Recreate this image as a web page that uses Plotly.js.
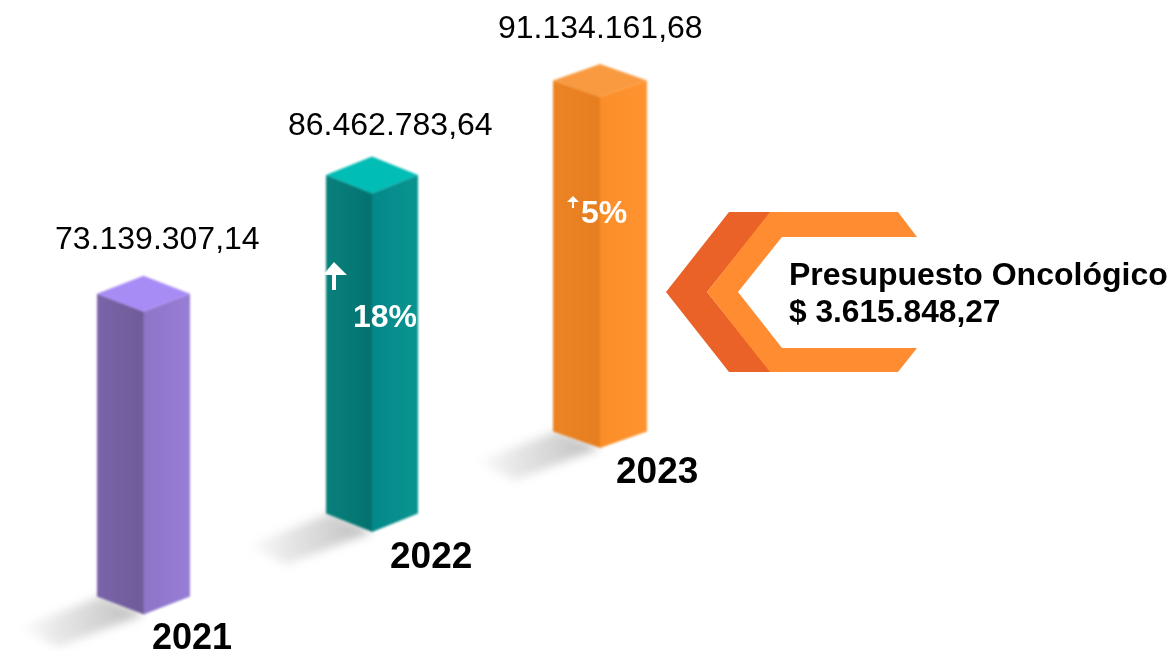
<!DOCTYPE html>
<html><head><meta charset="utf-8">
<script src="https://cdn.plot.ly/plotly-3.0.1.min.js"></script>
<style>
html,body{margin:0;padding:0;background:#fff}
#chart{width:1173px;height:651px}
#chart .scatterlayer{filter:blur(0.8px)}
#chart .scatterlayer .trace:nth-child(4n+1){filter:blur(5px)}
</style></head><body><div id="chart"></div>
<script>
// ---- data ----
const years = ['2021', '2022', '2023'];
const budgets = [73139307.14, 86462783.64, 91134161.68];
const growthLabels = ['', '18%', '5%'];
const calloutTitle = 'Presupuesto Oncológico';
const calloutValue = 3615848.27;

// ---- layout of the isometric columns (pixel-mapped axes) ----
const centerX = [143.5, 372, 600];
const baseY = [596.5, 513.5, 431.5];
const halfW = [46.5, 46, 47];
const depth = [18, 18.5, 16.5];
const heightOf = v => 106.8 + 2.68 * v / 1e6;   // truncated scale of the original

const topColor = ['#A88CF6', '#00BDB5', '#F99A40'];
const leftGrad = [['#7A64AA','#6F5B98'], ['#08807C','#04726F'], ['#EC8424','#E67D1F']];
const rightGrad = [['#8D75C8','#987DD6'], ['#04888A','#0A9490'], ['#FB8E28','#FF9330']];

const fmt = v => {
  const [i, d] = v.toFixed(2).split('.');
  return i.replace(/\B(?=(\d{3})+(?!\d))/g, '.') + ',' + d;
};

const traces = [];
function poly(xs, ys, opts) {
  traces.push(Object.assign({
    type: 'scatter', mode: 'lines', x: xs.concat(xs[0]), y: ys.concat(ys[0]),
    fill: 'toself', line: {width: 0}, hoverinfo: 'skip', showlegend: false
  }, opts));
}
const grad = c => ({type: 'horizontal', colorscale: [[0, c[0]], [1, c[1]]]});

years.forEach((yr, i) => {
  const cx = centerX[i], hw = halfW[i], d = depth[i], by = baseY[i];
  const ty = by - heightOf(budgets[i]);
  const L = cx - hw, R = cx + hw;
  // ground shadow
  poly([L + 6, cx, cx - 85, cx - 125], [by - 1, by + d, by + d + 32, by + d + 14], {
    fillgradient: {type: 'horizontal', colorscale: [[0, 'rgba(200,200,200,0)'], [0.45,'rgba(210,210,210,0.7)'], [1, 'rgba(185,185,185,1)']]}
  });
  // left face
  poly([L, cx + 0.5, cx + 0.5, L], [ty, ty + d, by + d, by], {fillgradient: grad(leftGrad[i])});
  // right face
  poly([cx, R, R, cx], [ty + d, ty, by, by + d], {fillgradient: grad(rightGrad[i])});
  // top face
  poly([L, cx, R, cx], [ty, ty - d, ty, ty + d], {fillcolor: topColor[i]});
});

// ---- text ----
const labelY = [238, 124, 27];
const labelX = [157, 390.5, 600];
const yearX = [192, 430.5, 657];
const yearY = [636, 555, 470];
const yearSize = [36, 37, 37];
const txt = (x, y, text, size, bold, color, anchor) => ({
  x, y, xref: 'x', yref: 'y', text: bold ? '<b>' + text + '</b>' : text, showarrow: false,
  xanchor: anchor || 'center', yanchor: 'middle', align: 'left',
  font: {family: '"Liberation Sans", Arial, sans-serif', size, color: color || '#000'}
});
const annotations = [];
years.forEach((yr, i) => {
  annotations.push(txt(labelX[i], labelY[i], fmt(budgets[i]), 32, false));
  annotations.push(Object.assign(txt(yearX[i], yearY[i], yr, yearSize[i], true), {height: 28}));
});
annotations.push(txt(384.5, 315.5, growthLabels[1], 32, true, '#fff'));
annotations.push(txt(604, 212, growthLabels[2], 32, true, '#fff'));
annotations.push(txt(787, 274, calloutTitle, 32, true, '#000', 'left'));
annotations.push(txt(787, 311, '$ ' + fmt(calloutValue), 31.7, true, '#000', 'left'));

// ---- decorations ----
const shapes = [
  {type: 'path', xref: 'x', yref: 'y', line: {width: 0}, fillcolor: '#EB6229',
   path: 'M666,292 L729,212 L771,212 L707,292 L771,372 L729,372 Z'},
  {type: 'path', xref: 'x', yref: 'y', line: {width: 0}, fillcolor: '#FF8C31',
   path: 'M770,212 L898,212 L917,237 L782,237 L738,292 L782,348 L917,348 L898,372 L770,372 L707,292 Z'},
  {type: 'path', xref: 'x', yref: 'y', line: {width: 0}, fillcolor: '#fff',
   path: 'M334,262 L347,275 L336,275 L336,290 L332,290 L332,275 L323,275 Z'},
  {type: 'path', xref: 'x', yref: 'y', line: {width: 0}, fillcolor: '#fff',
   path: 'M573,196 L579,202 L574,202 L574,208 L572,208 L572,202 L567,202 Z'}
];

const hidden = {visible: false, fixedrange: true, zeroline: false, showgrid: false};
Plotly.newPlot('chart', traces, {
  width: 1173, height: 651, margin: {l: 0, r: 0, t: 0, b: 0},
  paper_bgcolor: '#fff', plot_bgcolor: '#fff', showlegend: false,
  xaxis: Object.assign({range: [0, 1173]}, hidden),
  yaxis: Object.assign({range: [651, 0]}, hidden),
  shapes, annotations
}, {displayModeBar: false, staticPlot: true});
</script></body></html>
